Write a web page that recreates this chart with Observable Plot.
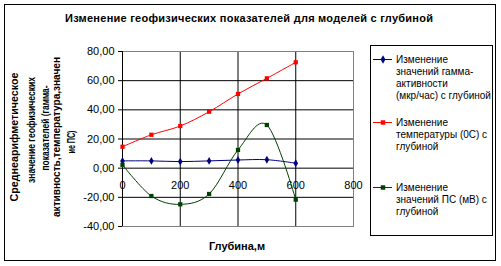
<!DOCTYPE html>
<html><head><meta charset="utf-8">
<script src="https://cdn.jsdelivr.net/npm/d3@7"></script>
<script src="https://cdn.jsdelivr.net/npm/@observablehq/plot@0.6"></script>
<style>
html,body{margin:0;padding:0;background:#fff;}
#wrap{position:relative;width:501px;height:266px;overflow:hidden;font-family:"Liberation Sans",Arial,sans-serif;}
#wrap svg{position:absolute;left:0;top:0;}
</style></head><body><div id="wrap"></div>
<script>
// ---- data ----
const depths = [0, 100, 200, 300, 400, 500, 600];
const gamma = [5.0, 5.0, 4.5, 5.0, 5.6, 5.8, 3.4];
const temperature = [14.7, 22.9, 28.9, 38.7, 50.9, 61.6, 72.6];
const sp = [2.3, -19.1, -24.8, -17.7, 12.5, 29.6, -21.6];
const seriesValues = [gamma, temperature, sp];
const seriesLegendLines = [
  ["Изменение", "значений гамма-", "активности", "(мкр/час) с глубиной"],
  ["Изменение", "температуры (0С) с", "глубиной"],
  ["Изменение", "значений ПС (мВ) с", "глубиной"]
];
const seriesColors = ["#000080", "#ff0000", "#004000"];
const seriesSymbols = ["diamond", "square", "square"];
const xTicks = [0, 200, 400, 600, 800];
const yTicks = [-40, -20, 0, 20, 40, 60, 80];
const yGrid = [-20, 0, 20, 40, 60];
const xGrid = [200, 400, 600];
const title = "Изменение геофизических показателей для моделей с глубиной";
const xTitle = "Глубина,м";
const yTitleLines = ["Среднеарифметическое", "значение геофизических", "показателей (гамма-", "активность,температура,значен", "ие ПС)"];

// ---- chart ----
const rows = [];
seriesValues.forEach((vals, i) => depths.forEach((d, j) => rows.push({series: i, depth: d, value: vals[j]})));

const seriesMarks = seriesValues.flatMap((_, i) => {
  const data = rows.filter(r => r.series === i);
  return [
    Plot.line(data, {x: "depth", y: "value", stroke: seriesColors[i], strokeWidth: 1, curve: "cardinal"}),
    Plot.dot(data, {x: "depth", y: "value", fill: seriesColors[i], stroke: "none", symbol: seriesSymbols[i], r: 2.4})
  ];
});

const chart = Plot.plot({
  width: 501, height: 266,
  marginLeft: 122, marginRight: 148, marginTop: 51, marginBottom: 40,
  style: {fontFamily: "Liberation Sans, Arial, sans-serif", fontSize: "11px", color: "#000", background: "transparent"},
  x: {domain: [0, 800], axis: null},
  y: {domain: [-40, 80]},
  marks: [
    Plot.ruleY(yGrid, {stroke: "#000", strokeWidth: 1}),
    Plot.ruleX(xGrid, {stroke: "#000", strokeWidth: 1}),
    Plot.frame({stroke: "#808080"}),
    Plot.ruleX([0], {stroke: "#000"}),
    Plot.axisY(yTicks, {tickSize: 4, tickPadding: 4, stroke: "#000", fill: "#000", fontSize: 11, label: null,
      tickFormat: d => d.toFixed(2).replace(".", ",")}),
    Plot.text(xTicks, {x: d => d, y: () => 0, dy: 17, text: d => String(d), fill: "#000", fontSize: 11}),
    ...seriesMarks
  ]
});
const wrap = document.getElementById("wrap");
wrap.appendChild(chart);

// ---- decoration overlay ----
const svg = d3.select(wrap).append("svg").attr("width", 501).attr("height", 266)
  .style("font-family", "Liberation Sans, Arial, sans-serif");
svg.append("rect").attr("x", 4.5).attr("y", 4.5).attr("width", 491).attr("height", 256)
  .attr("fill", "none").attr("stroke", "#000");
svg.append("text").attr("x", 249).attr("y", 22).attr("text-anchor", "middle")
  .attr("font-size", 11).attr("font-weight", "bold").attr("textLength", 368).attr("lengthAdjust", "spacing").text(title);
svg.append("text").attr("x", 237).attr("y", 250).attr("text-anchor", "middle")
  .attr("font-size", 11).attr("font-weight", "bold").text(xTitle);

const yt = [
  {cx: 14, cy: 137, len: 129, size: 11},
  {cx: 31, cy: 130, len: 106, size: 10.5},
  {cx: 45, cy: 128, len: 85, size: 10.5},
  {cx: 56, cy: 137, len: 160, size: 10.5},
  {cx: 71, cy: 142, len: 23, size: 10.5}
];
yTitleLines.forEach((t, i) => {
  const p = yt[i];
  svg.append("text").attr("transform", `translate(${p.cx + 3.5},${p.cy}) rotate(-90)`)
    .attr("text-anchor", "middle").attr("font-size", p.size).attr("font-weight", "bold")
    .attr("textLength", p.len).attr("lengthAdjust", "spacingAndGlyphs").text(t);
});

// legend
svg.append("rect").attr("x", 370.5).attr("y", 45.5).attr("width", 122).attr("height", 190)
  .attr("fill", "none").attr("stroke", "#000");
const entryY = [59, 122, 187];
seriesLegendLines.forEach((lines, i) => {
  const y0 = entryY[i];
  svg.append("line").attr("x1", 373).attr("x2", 392).attr("y1", y0 + 0.5).attr("y2", y0 + 0.5)
    .attr("stroke", seriesColors[i]);
  svg.append("path").attr("d", d3.symbol(seriesSymbols[i] === "diamond" ? d3.symbolDiamond : d3.symbolSquare, 20)())
    .attr("transform", `translate(383,${y0 + 0.5})`).attr("fill", seriesColors[i]);
  lines.forEach((t, k) => {
    svg.append("text").attr("x", 396).attr("y", y0 + 12 * k + 3.5).attr("font-size", 10)
      .attr("fill", "#000").text(t);
  });
});
</script></body></html>
